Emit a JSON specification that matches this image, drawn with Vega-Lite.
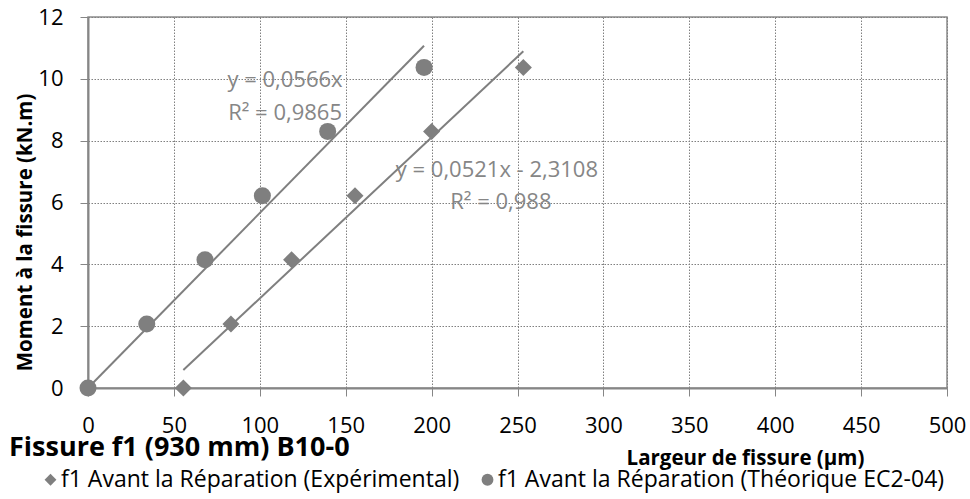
{
  "$schema": "https://vega.github.io/schema/vega-lite/v6.json",
  "width": 859,
  "height": 371,
  "autosize": {"type": "none"},
  "padding": {"left": 88, "top": 17, "right": 23, "bottom": 111},
  "background": "white",
  "title": {
    "text": "Fissure f1 (930 mm) B10-0",
    "orient": "bottom",
    "anchor": "start",
    "frame": "bounds",
    "offset": -57,
    "dx": -6,
    "font": "Open Sans",
    "fontSize": 27,
    "fontWeight": "bold",
    "color": "#000000"
  },
  "config": {
    "font": "Open Sans",
    "view": {"stroke": "#8c8c8c", "strokeWidth": 1.5},
    "axis": {
      "domainColor": "#868686",
      "domainWidth": 2,
      "tickColor": "#868686",
      "tickSize": 8,
      "gridColor": "#808080",
      "gridDash": [1.5, 1.5],
      "gridWidth": 1,
      "labelFont": "Open Sans",
      "labelFontSize": 22,
      "labelColor": "#000000",
      "labelFlush": false,
      "titleFont": "Open Sans",
      "titleFontSize": 20.5,
      "titleFontWeight": "bold",
      "titleColor": "#000000"
    }
  },
  "datasets": {
    "points": [
      {"serie": "f1 Avant la Réparation (Expérimental)", "largeur": 55.5, "moment": 0},
      {"serie": "f1 Avant la Réparation (Expérimental)", "largeur": 83.2, "moment": 2.07},
      {"serie": "f1 Avant la Réparation (Expérimental)", "largeur": 118.5, "moment": 4.15},
      {"serie": "f1 Avant la Réparation (Expérimental)", "largeur": 155.4, "moment": 6.22},
      {"serie": "f1 Avant la Réparation (Expérimental)", "largeur": 200, "moment": 8.3},
      {"serie": "f1 Avant la Réparation (Expérimental)", "largeur": 253.4, "moment": 10.37},
      {"serie": "f1 Avant la Réparation (Théorique EC2-04)", "largeur": 0, "moment": 0},
      {"serie": "f1 Avant la Réparation (Théorique EC2-04)", "largeur": 34.2, "moment": 2.07},
      {"serie": "f1 Avant la Réparation (Théorique EC2-04)", "largeur": 68.1, "moment": 4.15},
      {"serie": "f1 Avant la Réparation (Théorique EC2-04)", "largeur": 101.5, "moment": 6.22},
      {"serie": "f1 Avant la Réparation (Théorique EC2-04)", "largeur": 139.5, "moment": 8.3},
      {"serie": "f1 Avant la Réparation (Théorique EC2-04)", "largeur": 195.6, "moment": 10.37}
    ],
    "trend": [
      {"serie": "exp", "largeur": 55.5, "moment": 0.58},
      {"serie": "exp", "largeur": 253.4, "moment": 10.89},
      {"serie": "theo", "largeur": 0, "moment": 0},
      {"serie": "theo", "largeur": 195.6, "moment": 11.07}
    ],
    "labels": [
      {"txt": "y = 0,0566x", "largeur": 114.7, "moment": 9.96},
      {"txt": "R² = 0,9865", "largeur": 114.7, "moment": 8.9},
      {"txt": "y = 0,0521x - 2,3108", "largeur": 238, "moment": 7.05},
      {"txt": "R² = 0,988", "largeur": 240.3, "moment": 6.02}
    ]
  },
  "layer": [
    {
      "data": {"name": "trend"},
      "mark": {"type": "line", "color": "#7f7f7f", "strokeWidth": 2},
      "encoding": {
        "x": {
          "field": "largeur", "type": "quantitative",
          "scale": {"domain": [0, 500], "nice": false},
          "axis": {
            "values": [0, 50, 100, 150, 200, 250, 300, 350, 400, 450, 500],
            "labelPadding": 19,
            "title": "Largeur de fissure (µm)",
            "titleX": 657,
            "titleY": 70,
            "titleBaseline": "middle",
            "titleAlign": "center"
          }
        },
        "y": {
          "field": "moment", "type": "quantitative",
          "scale": {"domain": [0, 12], "nice": false},
          "axis": {
            "values": [0, 2, 4, 6, 8, 10, 12],
            "labelPadding": 17,
            "title": "Moment à la fissure (kN.m)",
            "titleX": -63,
            "titleY": 215,
            "titleBaseline": "middle",
            "titleAlign": "center",
            "titleAngle": -90
          }
        },
        "detail": {"field": "serie"}
      }
    },
    {
      "data": {"name": "labels"},
      "mark": {"type": "text", "color": "#868686", "fontSize": 22, "font": "Open Sans", "align": "center", "baseline": "middle"},
      "encoding": {
        "x": {"field": "largeur", "type": "quantitative"},
        "y": {"field": "moment", "type": "quantitative"},
        "text": {"field": "txt"}
      }
    },
    {
      "data": {"name": "points"},
      "mark": {"type": "point", "filled": true, "color": "#7f7f7f", "opacity": 1, "size": 290, "clip": false},
      "encoding": {
        "x": {"field": "largeur", "type": "quantitative"},
        "y": {"field": "moment", "type": "quantitative"},
        "shape": {
          "field": "serie", "type": "nominal",
          "scale": {
            "domain": ["f1 Avant la Réparation (Expérimental)", "f1 Avant la Réparation (Théorique EC2-04)"],
            "range": ["diamond", "circle"]
          },
          "legend": {
            "title": null,
            "orient": "none",
            "direction": "horizontal",
            "legendX": -49,
            "legendY": 451,
            "symbolFillColor": "#7f7f7f",
            "symbolStrokeColor": "#7f7f7f",
            "symbolSize": 140,
            "labelFont": "Open Sans",
            "labelFontSize": 23,
            "labelColor": "#000000",
            "labelOffset": -1,
            "columnPadding": 16,
            "labelLimit": 600
          }
        }
      }
    }
  ]
}
